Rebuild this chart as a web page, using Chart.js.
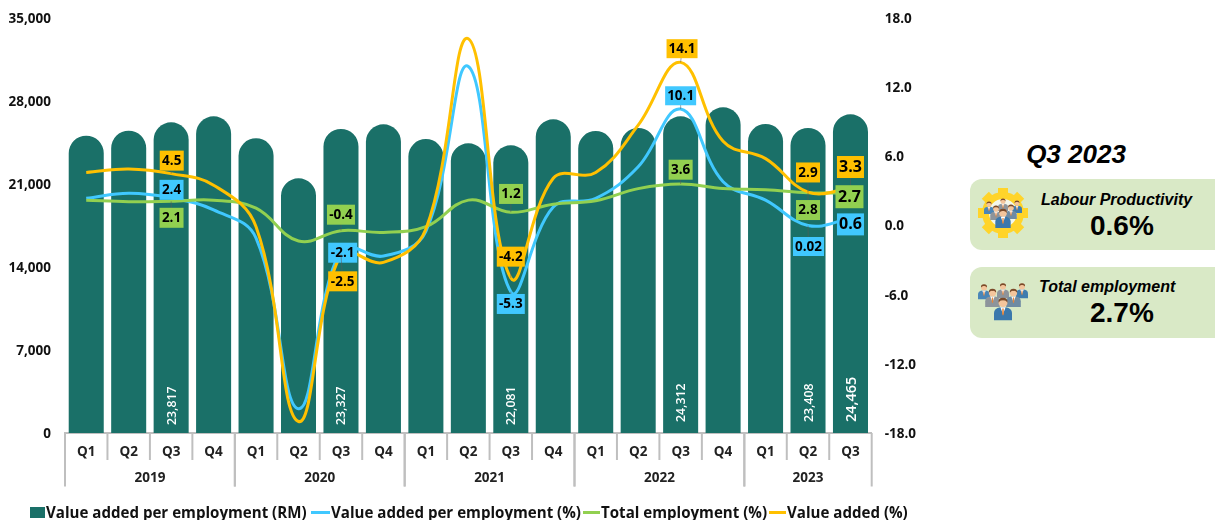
<!DOCTYPE html>
<html>
<head>
<meta charset="utf-8">
<title>Labour productivity Q3 2023</title>
<script src="https://cdn.jsdelivr.net/npm/chart.js@4"></script>
<style>
    body { margin: 0; background: #fff; width: 1215px; height: 520px; overflow: hidden; position: relative; font-family: "Liberation Sans", sans-serif; color: #000; }
    #chart { position: absolute; left: 0; top: 0; }
    #legend { position: absolute; left: 0; top: 503px; height: 18px; font: bold 15.1px "Open Sans", sans-serif; color: #111; }
    #legend span { position: absolute; top: 0; white-space: nowrap; line-height: 18px; }
    #legend i { position: absolute; }
    .title { position: absolute; left: 970px; width: 212px; top: 139px; text-align: center; font: italic bold 26px "Liberation Sans", sans-serif; }
    .card { position: absolute; left: 970px; width: 260px; height: 71px; background: #d9e9c6; border-radius: 12px; }
    .card b { position: absolute; white-space: nowrap; }
    .card .name { font: italic bold 16px "Liberation Sans", sans-serif; }
    .card .pct { font: bold 28px "Liberation Sans", sans-serif; }
    #icons { position: absolute; left: 0; top: 0; }
</style>
</head>
<body>
<canvas id="chart" width="940" height="520"></canvas>
<div id="legend"></div>

<div class="title">Q3 2023</div>
<div class="card" style="top:179px"><b class="name" style="left:71px;top:12px">Labour Productivity</b><b class="pct" style="left:120px;top:31px">0.6%</b></div>
<div class="card" style="top:267px"><b class="name" style="left:69px;top:11px">Total employment</b><b class="pct" style="left:120px;top:30px">2.7%</b></div>

<svg id="icons" width="1215" height="520">
    <defs>
        <symbol id="person" viewBox="0 0 20 26">
            <path d="M0 26V18Q0 12.5 7 11.5H13Q20 12.5 20 18V26Z" fill="currentColor"/>
            <path d="M7 11.5L10 19L13 11.5Z" fill="#fff"/>
            <path d="M9.2 13H10.8L11 19L10 21L9 19Z" fill="#e8863a"/>
            <circle cx="10" cy="6.5" r="5" fill="#f4c59c"/>
            <path d="M5 6.5Q4.5 1 10 1Q15.5 1 15 6.5Q13 3.5 10 4Q7 3.5 5 6.5Z" fill="#7a4a2a"/>
        </symbol>
    </defs>
    <g fill="#ffd42a">
        <rect x="998" y="188" width="10" height="8" transform="rotate(0 1003 213)"/>
        <rect x="998" y="188" width="10" height="8" transform="rotate(45 1003 213)"/>
        <rect x="998" y="188" width="10" height="8" transform="rotate(90 1003 213)"/>
        <rect x="998" y="188" width="10" height="8" transform="rotate(135 1003 213)"/>
        <rect x="998" y="188" width="10" height="8" transform="rotate(180 1003 213)"/>
        <rect x="998" y="188" width="10" height="8" transform="rotate(225 1003 213)"/>
        <rect x="998" y="188" width="10" height="8" transform="rotate(270 1003 213)"/>
        <rect x="998" y="188" width="10" height="8" transform="rotate(315 1003 213)"/>
    </g>
    <circle cx="1003" cy="213" r="17.5" fill="#f3f7ec" stroke="#ffd42a" stroke-width="7"/>
    <use href="#person" x="984" y="201" width="10" height="13" color="#4a86b8"/>
    <use href="#person" x="998" y="198" width="10" height="13" color="#8d949b"/>
    <use href="#person" x="1012" y="200" width="10" height="13" color="#3f7cae"/>
    <use href="#person" x="990" y="205" width="12" height="15" color="#8d949b"/>
    <use href="#person" x="1005" y="204" width="12" height="15" color="#6f8ba3"/>
    <use href="#person" x="995" y="208" width="16" height="20" color="#3b78ac"/>

    <use href="#person" x="978" y="283" width="12" height="17" color="#4a86b8"/>
    <use href="#person" x="997" y="282" width="12" height="17" color="#8d949b"/>
    <use href="#person" x="1016" y="282" width="12" height="17" color="#3f7cae"/>
    <use href="#person" x="985" y="288" width="15" height="19" color="#8d949b"/>
    <use href="#person" x="1006" y="288" width="15" height="19" color="#6f8ba3"/>
    <use href="#person" x="994" y="295" width="18" height="27" color="#3b78ac"/>
</svg>

<script>
    // Categories
    const quarters = ['Q1', 'Q2', 'Q3', 'Q4', 'Q1', 'Q2', 'Q3', 'Q4', 'Q1', 'Q2', 'Q3', 'Q4', 'Q1', 'Q2', 'Q3', 'Q4', 'Q1', 'Q2', 'Q3'];
    const years = ['2019', '2020', '2021', '2022', '2023'];
    const yearLengths = [4, 4, 4, 4, 3];

    // Series values
    const barValues = [25073, 25496, 26204, 26710, 24855, 21481, 25639, 26035, 24795, 24433, 24264, 26457, 25470, 25724, 26710, 27469, 26060, 25724, 26879];
    const productivity = [2.36, 2.8, 2.4, 1.35, -1.1, -15.9, -2.1, -2.65, -0.5, 13.8, -5.74, 1.6, 2.36, 5.1, 10.1, 3.8, 2.2, 0.0, 0.6];
    const employment = [2.2, 2.06, 2.1, 2.2, 1.5, -1.35, -0.45, -0.6, -0.1, 2.2, 1.15, 1.85, 2.15, 3.2, 3.6, 3.2, 3.1, 2.85, 2.8];
    const valueAdded = [4.6, 4.9, 4.5, 3.5, -0.1, -17.0, -2.5, -3.2, -0.3, 16.2, -4.55, 4.1, 4.6, 8.7, 14.15, 7.3, 5.8, 2.9, 3.2];

    // Printed bar values
    const barLabelIndex = [2, 6, 10, 14, 17, 18];
    const barLabelText = ['23,817', '23,327', '22,081', '24,312', '23,408', '24,465'];

    const leftTickStep = 7000;
    const rightTickStep = 6;

    const TEAL = '#1a7068';
    const BLUE = '#40c8ff';
    const GREEN = '#92d050';
    const ORANGE = '#ffc000';
    const AXIS_GRAY = '#bfbfbf';
    const TEXT = '#111';

    // Boxed value labels: dataset, point, text, box offset from the point
    const callouts = [
        { ds: 3, i: 2, text: '4.5', dx: 0.6, dy: -13, w: 24, h: 20 },
        { ds: 1, i: 2, text: '2.4', dx: 0.4, dy: -8, w: 24, h: 20 },
        { ds: 2, i: 2, text: '2.1', dx: 0.4, dy: 16.5, w: 24, h: 20 },
        { ds: 2, i: 6, text: '-0.4', dx: 0, dy: -16, w: 28, h: 20 },
        { ds: 1, i: 6, text: '-2.1', dx: 1.7, dy: 3, w: 29, h: 20 },
        { ds: 3, i: 6, text: '-2.5', dx: 1.7, dy: 27, w: 29, h: 20 },
        { ds: 2, i: 10, text: '1.2', dx: 0.2, dy: -18.3, w: 24, h: 20 },
        { ds: 3, i: 10, text: '-4.2', dx: 0, dy: -21.3, w: 28, h: 20 },
        { ds: 1, i: 10, text: '-5.3', dx: 0, dy: 12.3, w: 28, h: 20 },
        { ds: 3, i: 14, text: '14.1', dx: 1.4, dy: -13.7, w: 31, h: 19 },
        { ds: 1, i: 14, text: '10.1', dx: 0, dy: -13.3, w: 31, h: 19 },
        { ds: 2, i: 14, text: '3.6', dx: 0, dy: -14.3, w: 24, h: 20 },
        { ds: 3, i: 17, text: '2.9', dx: 0, dy: -19.6, w: 24, h: 20 },
        { ds: 2, i: 17, text: '2.8', dx: 0, dy: 17.4, w: 24, h: 20 },
        { ds: 1, i: 17, text: '0.02', dx: 0.5, dy: 21, w: 31, h: 19 },
        { ds: 3, i: 18, text: '3.3', dx: 0, dy: -21.6, w: 27, h: 22, big: true },
        { ds: 2, i: 18, text: '2.7', dx: -1, dy: 3.5, w: 28, h: 23, big: true },
        { ds: 1, i: 18, text: '0.6', dx: 0, dy: 5.8, w: 27, h: 22, big: true }
    ];

    // Year groups under the quarter labels
    const yearAxisPlugin = {
        id: 'yearAxis',
        afterDraw(chart) {
            const { ctx, scales: { x } } = chart;
            const step = x.getPixelForValue(1) - x.getPixelForValue(0);
            const base = chart.chartArea.bottom;
            ctx.save();
            ctx.strokeStyle = AXIS_GRAY;
            ctx.lineWidth = 2;
            ctx.fillStyle = '#222';
            ctx.font = 'bold 13.5px "Open Sans"';
            ctx.textAlign = 'center';
            ctx.textBaseline = 'middle';
            let start = 0;
            years.forEach((year, n) => {
                const left = x.getPixelForValue(start) - step / 2;
                for (let k = 0; k <= yearLengths[n]; k++) {
                    const edge = left + k * step;
                    const long = k === 0 || k === yearLengths[n];
                    ctx.beginPath();
                    ctx.moveTo(edge, base);
                    ctx.lineTo(edge, base + (long ? 53.5 : 27));
                    ctx.stroke();
                }
                ctx.fillText(year, left + yearLengths[n] * step / 2, base + 45.5);
                start += yearLengths[n];
            });
            ctx.restore();
        }
    };

    // Rotated bar values and boxed labels, on top of the lines
    const labelsPlugin = {
        id: 'valueLabels',
        afterDatasetsDraw(chart) {
            const { ctx } = chart;
            const bars = chart.getDatasetMeta(0).data;
            ctx.save();
            barLabelIndex.forEach((idx, n) => {
                const big = n === barLabelText.length - 1;
                const raised = n >= 3 && !big;
                ctx.save();
                ctx.translate(bars[idx].x + 1, raised || big ? 422 : 425);
                ctx.rotate(-Math.PI / 2);
                ctx.fillStyle = '#fff';
                ctx.font = '600 ' + (big ? '14.5px' : '12.3px') + ' "Open Sans"';
                ctx.textAlign = 'left';
                ctx.textBaseline = 'middle';
                ctx.fillText(barLabelText[n], 0, 0);
                ctx.restore();
            });
            callouts.forEach((c) => {
                const pt = chart.getDatasetMeta(c.ds).data[c.i];
                const cx = pt.x + c.dx;
                const cy = pt.y + c.dy;
                ctx.strokeStyle = 'rgba(90,90,90,0.7)';
                ctx.lineWidth = 0.75;
                ctx.beginPath();
                ctx.moveTo(pt.x, pt.y);
                ctx.lineTo(cx, cy);
                ctx.stroke();
                ctx.fillStyle = chart.data.datasets[c.ds].borderColor;
                ctx.fillRect(cx - c.w / 2, cy - c.h / 2, c.w, c.h);
                ctx.fillStyle = '#000';
                ctx.font = 'bold ' + (c.big ? 16 : 13.5) + 'px "Open Sans"';
                ctx.textAlign = 'center';
                ctx.textBaseline = 'middle';
                ctx.fillText(c.text, cx, cy + 0.5);
            });
            ctx.restore();
        }
    };

    // Tick padding counts toward the axis margins, so drop it to keep the plot height
    const fitVertical = (width) => (s) => {
        s.width = width;
        s.paddingTop = 0;
        s.paddingBottom = 0;
    };

    const lineBase = { type: 'line', yAxisID: 'y1', borderWidth: 3, pointRadius: 0, tension: 0.4, fill: false, clip: false };

    const chart = new Chart(document.getElementById('chart').getContext('2d'), {
        data: {
            labels: quarters,
            datasets: [
                { type: 'bar', label: 'Value added per employment (RM)', data: barValues, yAxisID: 'y', backgroundColor: TEAL, borderColor: TEAL, barPercentage: 0.825, categoryPercentage: 1, borderRadius: { topLeft: 18, topRight: 18 }, borderSkipped: 'bottom', order: 4 },
                { ...lineBase, label: 'Value added per employment (%)', data: productivity, borderColor: BLUE, backgroundColor: BLUE, order: 3 },
                { ...lineBase, label: 'Total employment (%)', data: employment, borderColor: GREEN, backgroundColor: GREEN, order: 2 },
                { ...lineBase, label: 'Value added (%)', data: valueAdded, borderColor: ORANGE, backgroundColor: ORANGE, order: 1 }
            ]
        },
        options: {
            responsive: false,
            animation: false,
            layout: { padding: { top: 18, left: 0, right: 0, bottom: 0 } },
            plugins: { legend: { display: false }, tooltip: { enabled: false } },
            scales: {
                x: {
                    grid: { display: false, drawTicks: false },
                    border: { color: AXIS_GRAY, width: 2 },
                    ticks: { autoSkip: false, maxRotation: 0, padding: 11, color: '#222', font: { family: '"Open Sans"', weight: 'bold', size: 13.5 } },
                    afterFit(s) { s.height = 87; }
                },
                y: {
                    position: 'left',
                    min: 0,
                    max: 35000,
                    grid: { display: false, drawTicks: false },
                    border: { display: false },
                    ticks: { stepSize: leftTickStep, padding: 14, labelOffset: 1, color: TEXT, font: { family: '"Open Sans"', weight: 'bold', size: 13.5 }, callback: (v) => v.toLocaleString('en-US') },
                    afterFit: fitVertical(65)
                },
                y1: {
                    position: 'right',
                    min: -18,
                    max: 18,
                    grid: { display: false, drawTicks: false },
                    border: { display: false },
                    ticks: { stepSize: rightTickStep, padding: 13, labelOffset: 1, color: TEXT, font: { family: '"Open Sans"', weight: 'bold', size: 13.5 }, callback: (v) => v.toFixed(1) },
                    afterFit: fitVertical(68.3)
                }
            }
        },
        plugins: [yearAxisPlugin, labelsPlugin]
    });

    // Legend
    const legend = document.getElementById('legend');
    const legendStarts = [30, 311, 583, 769];
    const legendSwatchWidths = [15, 19, 17, 17];
    chart.data.datasets.forEach((ds, n) => {
        const swatch = document.createElement('i');
        const isBar = n === 0;
        swatch.style.cssText = 'left:' + legendStarts[n] + 'px;background:' + ds.backgroundColor + ';width:' + legendSwatchWidths[n] + 'px;' +
            (isBar ? 'top:4px;height:11px' : 'top:8px;height:3px');
        legend.appendChild(swatch);
        const text = document.createElement('span');
        text.textContent = ds.label;
        text.style.left = (legendStarts[n] + legendSwatchWidths[n] + 1) + 'px';
        legend.appendChild(text);
    });
</script>
</body>
</html>
